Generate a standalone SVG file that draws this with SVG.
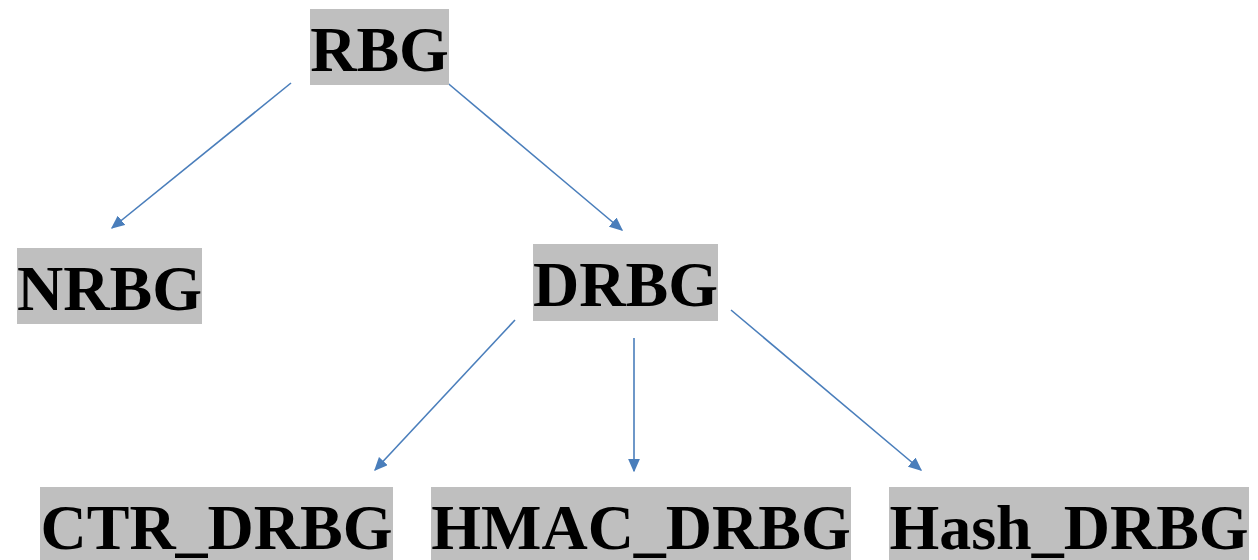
<svg xmlns="http://www.w3.org/2000/svg" width="1258" height="560" viewBox="0 0 1258 560">
<style>
.box{fill:#bfbfbf}
.lbl{font-family:"Liberation Serif","Times New Roman",serif;font-weight:bold;font-size:64px;fill:#000;text-anchor:middle}
.edge{stroke:#4a7ebb;stroke-width:1.6;fill:none;marker-end:url(#ah)}
</style>
<defs>
<marker id="ah" viewBox="0 0 10 10" refX="9" refY="5" markerWidth="8.5" markerHeight="7.5" markerUnits="strokeWidth" orient="auto" preserveAspectRatio="none">
<path d="M0,0 L10,5 L0,10 Z" fill="#4a7ebb"/>
</marker>
</defs>
<rect width="1258" height="560" fill="#fff"/>
<g id="connectors">
<line class="edge" x1="291" y1="83" x2="112" y2="228"/>
<line class="edge" x1="444" y1="80" x2="622" y2="230"/>
<line class="edge" x1="515" y1="320" x2="375" y2="470"/>
<line class="edge" x1="634" y1="338" x2="634" y2="471"/>
<line class="edge" x1="731" y1="310" x2="921" y2="470"/>
</g>
<g id="RBG"><rect class="box" x="310" y="9" width="139" height="76"/><text class="lbl" x="379.5" y="71">RBG</text></g>
<g id="NRBG"><rect class="box" x="17" y="248" width="185" height="76"/><text class="lbl" x="109.5" y="310">NRBG</text></g>
<g id="DRBG"><rect class="box" x="533" y="244" width="185" height="77"/><text class="lbl" x="625.5" y="306">DRBG</text></g>
<g id="CTR_DRBG"><rect class="box" x="40" y="487" width="353" height="80"/><text class="lbl" x="216.5" y="549">CTR_DRBG</text></g>
<g id="HMAC_DRBG"><rect class="box" x="431" y="487" width="420" height="80"/><text class="lbl" x="641" y="549">HMAC_DRBG</text></g>
<g id="Hash_DRBG"><rect class="box" x="889" y="487" width="360" height="80"/><text class="lbl" x="1069" y="549">Hash_DRBG</text></g>
</svg>
